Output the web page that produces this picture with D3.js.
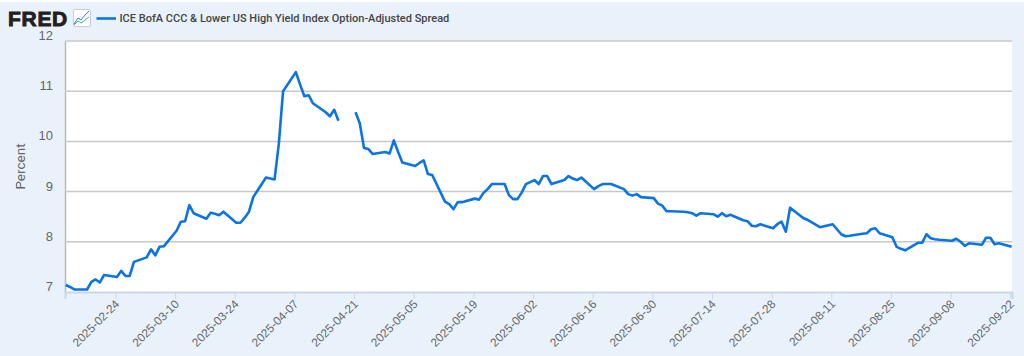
<!DOCTYPE html>
<html>
<head>
<meta charset="utf-8">
<script src="https://cdn.jsdelivr.net/npm/d3@7"></script>
<style>
  html, body { margin: 0; padding: 0; background: #fff; }
  svg { display: block; font-family: Roboto, sans-serif; }
</style>
</head>
<body>
<div id="chart"></div>
<script>
const seriesName = "ICE BofA CCC & Lower US High Yield Index Option-Adjusted Spread";
const yLabel = "Percent";
const yTicks = [7, 8, 9, 10, 11, 12];
const tickDates = ["2025-02-24", "2025-03-10", "2025-03-24", "2025-04-07", "2025-04-21", "2025-05-05",
  "2025-05-19", "2025-06-02", "2025-06-16", "2025-06-30", "2025-07-14", "2025-07-28", "2025-08-11",
  "2025-08-25", "2025-09-08", "2025-09-22"];

const dates = [
  "02-12","02-13","02-14","02-17","02-18","02-19","02-20","02-21","02-24","02-25","02-26","02-27","02-28",
  "03-03","03-04","03-05","03-06","03-07","03-10","03-11","03-12","03-13","03-14",
  "03-17","03-18","03-19","03-20","03-21","03-24","03-25","03-26","03-27","03-28",
  "03-31","04-01","04-02","04-03","04-04","04-07","04-08","04-09","04-10","04-11",
  "04-14","04-15","04-16","04-17","04-18","04-21","04-22","04-23","04-24","04-25",
  "04-28","04-29","04-30","05-01","05-02","05-05","05-06","05-07","05-08","05-09",
  "05-12","05-13","05-14","05-15","05-16","05-19","05-20","05-21","05-22","05-23",
  "05-26","05-27","05-28","05-29","05-30","05-31","06-02","06-03","06-04","06-05","06-06",
  "06-09","06-10","06-11","06-12","06-13","06-16","06-17","06-18","06-19","06-20",
  "06-23","06-24","06-25","06-26","06-27","06-30","07-01","07-02","07-03","07-04",
  "07-07","07-08","07-09","07-10","07-11","07-14","07-15","07-16","07-17","07-18",
  "07-21","07-22","07-23","07-24","07-25","07-28","07-29","07-30","07-31","08-01",
  "08-04","08-05","08-06","08-07","08-08","08-11","08-12","08-13","08-14","08-15",
  "08-18","08-19","08-20","08-21","08-22","08-25","08-26","08-27","08-28","08-29","08-31",
  "09-01","09-02","09-03","09-04","09-05","09-08","09-09","09-10","09-11","09-12",
  "09-15","09-16","09-17","09-18","09-19","09-22"
];
const values = [
  7.14,7.10,7.05,7.05,7.20,7.25,7.19,7.34,7.30,7.42,7.32,7.32,7.60,
  7.69,7.85,7.73,7.90,7.91,8.22,8.40,8.41,8.73,8.57,
  8.46,8.58,8.56,8.53,8.60,8.38,8.38,8.48,8.60,8.89,
  9.28,9.26,9.24,9.95,11.00,11.38,11.13,10.90,10.92,10.76,
  10.58,10.50,10.63,10.41,null,10.58,10.36,9.87,9.85,9.75,
  9.79,9.76,10.02,9.79,9.58,9.51,9.57,9.62,9.35,9.33,
  8.80,8.75,8.65,8.79,8.79,8.86,8.84,8.97,9.05,9.15,
  9.15,8.93,8.85,8.85,8.98,9.15,9.23,9.15,9.31,9.31,9.15,
  9.23,9.31,9.26,9.23,9.28,9.05,9.11,9.15,9.15,9.15,
  9.05,8.95,8.92,8.95,8.89,8.87,8.76,8.72,8.61,8.61,
  8.60,8.59,8.57,8.52,8.57,8.55,8.50,8.57,8.51,8.54,
  8.43,8.41,8.32,8.31,8.35,8.27,8.35,8.40,8.20,8.68,
  8.48,8.44,8.39,8.34,8.29,8.35,8.25,8.15,8.11,8.12,
  8.16,8.17,8.25,8.27,8.17,8.09,7.90,7.86,7.83,7.88,7.98,
  7.98,8.15,8.07,8.05,8.04,8.02,8.06,8.00,7.92,7.97,
  7.94,8.08,8.08,7.95,7.97,7.90
];

const width = 1024, height = 356;
const margin = { top: 41, right: 12, bottom: 64, left: 65 };

const svg = d3.select("#chart").append("svg")
  .attr("width", width)
  .attr("height", height);

// page panel, sits just under a thin white strip
svg.append("rect")
  .attr("x", 0).attr("y", 2)
  .attr("width", width).attr("height", height - 2)
  .attr("fill", "#e9f2fa");

svg.append("rect")
  .attr("x", margin.left).attr("y", margin.top)
  .attr("width", width - margin.left - margin.right)
  .attr("height", height - margin.top - margin.bottom)
  .attr("fill", "#fff");

const x = d3.scaleUtc()
  .domain([new Date("2025-02-12T03:36:00Z"), new Date("2025-09-22T10:00:00Z")])
  .range([margin.left, width - margin.right]);

const y = d3.scaleLinear()
  .domain([7, 12])
  .range([height - margin.bottom, margin.top]);

// grid + y axis
const yAxis = svg.append("g")
  .attr("transform", `translate(${margin.left},0)`)
  .call(d3.axisLeft(y).tickValues(yTicks).tickSize(0).tickPadding(12).tickFormat(d3.format("d")));
yAxis.select(".domain").attr("stroke", "#b8b8b8").attr("stroke-width", 1.5);
yAxis.selectAll("text")
  .attr("dy", "-0.12em")
  .attr("fill", "#666")
  .style("font-size", "13px");

svg.append("g").selectAll("line")
  .data(yTicks.filter((d) => d > 7))
  .join("line")
  .attr("x1", margin.left)
  .attr("x2", width - margin.right)
  .attr("y1", (d) => y(d))
  .attr("y2", (d) => y(d))
  .attr("stroke", "#c8c8c8")
  .attr("stroke-width", 1.5);

// x axis
const xAxis = svg.append("g")
  .attr("transform", `translate(0,${height - margin.bottom})`)
  .call(d3.axisBottom(x)
    .tickValues(tickDates.map((d) => new Date(d + "T00:00:00Z")))
    .tickSize(7)
    .tickFormat(d3.utcFormat("%Y-%m-%d")));
xAxis.select(".domain").attr("stroke", "#ccd6eb").attr("stroke-width", 2);
xAxis.selectAll("line").attr("stroke", "#ccd6eb");
xAxis.selectAll("text")
  .attr("fill", "#666")
  .style("font-size", "11.8px")
  .attr("text-anchor", "end")
  .attr("transform", "rotate(-45)")
  .attr("x", -6)
  .attr("y", 12)
  .attr("dy", 0);

svg.append("text")
  .attr("transform", `translate(25,${(margin.top + height - margin.bottom) / 2}) rotate(-90)`)
  .attr("text-anchor", "middle")
  .attr("fill", "#666")
  .style("font-size", "13.5px")
  .text(yLabel);

// series
const points = dates.map((d, i) => ({ date: new Date(`2025-${d}T08:00:00Z`), value: values[i] }));
const line = d3.line()
  .defined((d) => d.value !== null)
  .x((d) => x(d.date))
  .y((d) => y(d.value));

svg.append("path")
  .datum(points)
  .attr("d", line)
  .attr("fill", "none")
  .attr("stroke", "#0b74e5")
  .attr("stroke-width", 2.6)
  .attr("stroke-linejoin", "round");

// header: logo, icon, legend
svg.append("text")
  .attr("x", 8).attr("y", 26)
  .attr("fill", "#231f20")
  .style("font-family", "'Liberation Sans', sans-serif")
  .style("font-size", "21px")
  .style("font-weight", 700)
  .style("letter-spacing", "0.7px")
  .style("stroke", "#231f20")
  .style("stroke-width", 0.9)
  .text("FRED");

const icon = svg.append("g").attr("transform", "translate(73,9)");
icon.append("rect").attr("x", 0.5).attr("y", 0.5).attr("width", 17).attr("height", 17).attr("rx", 1.5)
  .attr("fill", "#fff").attr("stroke", "#c9ccd0");
icon.append("path").attr("d", "M1 15L5 9L8 11L12 6L16 2").attr("fill", "none").attr("stroke", "#2f7fd6").attr("stroke-width", 1);
icon.append("path").attr("d", "M1 16L5 12L8 14L12 11L16 8").attr("fill", "none").attr("stroke", "#3fa98a").attr("stroke-width", 1);

svg.append("line")
  .attr("x1", 96.5).attr("x2", 116)
  .attr("y1", 18.5).attr("y2", 18.5)
  .attr("stroke", "#0b74e5")
  .attr("stroke-width", 2.6);

svg.append("text")
  .attr("x", 119.5).attr("y", 22)
  .attr("fill", "#444")
  .style("font-size", "11px")
  .style("font-weight", 500)
  .text(seriesName);
</script>
</body>
</html>
